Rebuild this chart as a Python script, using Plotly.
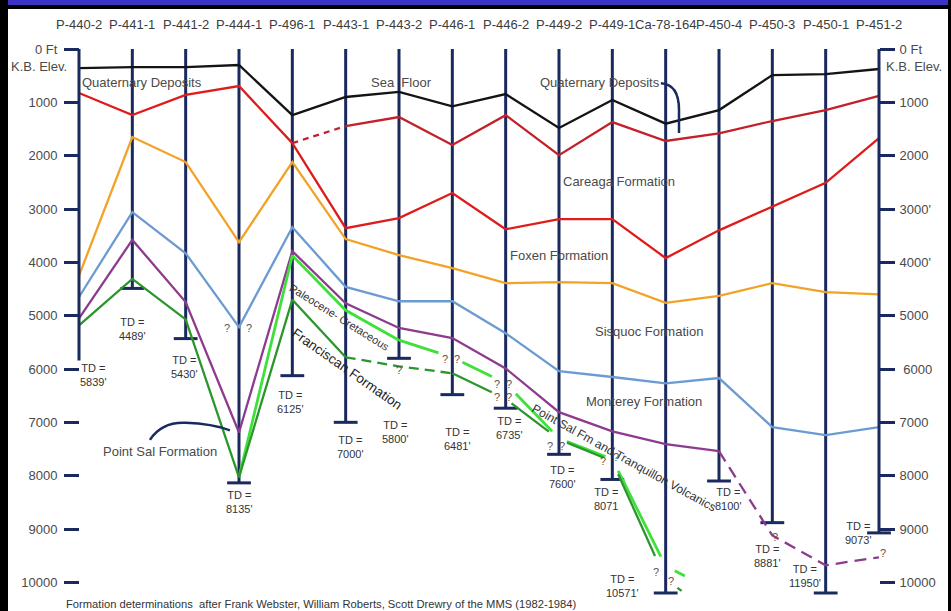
import plotly.graph_objects as go

# ---------------------------------------------------------------- data
WELLS = ["P-440-2", "P-441-1", "P-441-2", "P-444-1", "P-496-1", "P-443-1",
         "P-443-2", "P-446-1", "P-446-2", "P-449-2", "P-449-1", "Ca-78-164",
         "P-450-4", "P-450-3", "P-450-1", "P-451-2"]

# total depth of each well, ft below K.B.
TOTAL_DEPTH = [5839, 4489, 5430, 8135, 6125, 7000, 5800, 6481,
               6735, 7600, 8071, 10571, 8100, 8881, 11950, 9073]
TD_PRIME = [True] * 10 + [False] + [True] * 5

# formation boundaries (ft) picked at each well; None = not present
SEA_FLOOR = [360, 340, 340, 300, 1240, 900, 805, 1075,
             845, 1480, 955, 1400, 1145, 490, 470, 375]
QUATERNARY_BASE = [825, 1240, 860, 695, 1765, 1445, 1275, 1800,
                   1240, 1990, 1370, 1725, 1580, 1350, 1145, 880]
CAREAGA_BASE = [None, None, None, None, 1765, 3360, 3170, 2700,
                3380, 3190, 3190, 3920, 3400, 2960, 2510, 1670]
FOXEN_BASE = [4250, 1650, 2120, 3620, 2120, 3565, 3865, 4110,
              4390, 4370, 4390, 4760, 4630, 4390, 4560, 4600]
SISQUOC_BASE = [4650, 3060, 3830, 5215, 3340, 4460, 4730, 4730,
                5330, 6040, 6150, 6270, 6170, 7090, 7240, 7090]
MONTEREY_BASE = [5050, 3580, 4745, 7190, 3790, 4770, 5230, 5420,
                 5990, 6810, 7170, 7410, 7540, 9120, 9680, 9530]
POINT_SAL_BASE = [None, None, None, 8030, 3870, 4900, 5460, 5780,
                  6270, 7300, 7690, 9700, 10200, None, None, None]
PALEO_CRET_BASE = [5180, 4310, 5070, 8030, 4700, 5780, 5950, 6080,
                   6560, 7320, 7730, 9950, 10650, None, None, None]

DEPTH_TICKS = [0, 1000, 2000, 3000, 4000, 5000, 6000, 7000, 8000, 9000, 10000]
LEFT_TICK_TEXT = ["0 Ft", "1000", "2000", "3000", "4000", "5000", "6000",
                  "7000", "8000", "9000", "10000"]
RIGHT_TICK_TEXT = ["0 Ft", "1000", "2000", "3000'", "4000'", "5000", " 6000",
                   "7000", "8000", "9000", "10000"]

# ---------------------------------------------------------------- layout constants
W, H = 951, 611
SECTION_BASE = 10200          # wells deeper than this leave the section
SECTION_TOP = -168.75
X_MIN, X_MAX = -0.06, 15.06
PX_LEFT, PX_RIGHT = 75.8, 882.2
PX_TOP, PX_BOTTOM = 40, 593

NAVY = "#1b2a5e"
TXT = "#4a4a4a"
FONT = "Arial, Liberation Sans, sans-serif"

C_BLACK = "#141414"
C_RED_UP = "#c4202a"
C_RED = "#df1c1c"
C_ORANGE = "#f2a327"
C_BLUE = "#6b9bd2"
C_PURPLE = "#8d3b8f"
C_LGREEN = "#3fe03a"
C_DGREEN = "#2a962c"
LW = 2.3

fig = go.Figure()


def run(values, start, stop, color, dash="solid", width=LW, yaxis="y"):
    xs = list(range(start, stop + 1))
    ys = [values[i] for i in xs]
    fig.add_trace(go.Scatter(x=xs, y=ys, mode="lines", yaxis=yaxis,
                             line=dict(color=color, width=width, dash=dash),
                             hoverinfo="skip", showlegend=False))


def piece(values, i, t0, t1, color, dash="solid", width=LW):
    """Part of the interval well i -> i+1, from fraction t0 to fraction t1."""
    a, b = values[i], values[i + 1]
    xa, xb = i + t0, i + t1
    ya, yb = a + (b - a) * t0, a + (b - a) * t1
    fig.add_trace(go.Scatter(x=[xa, xb], y=[ya, yb], mode="lines",
                             line=dict(color=color, width=width, dash=dash),
                             hoverinfo="skip", showlegend=False))


# ---------------------------------------------------------------- well bores
n = len(WELLS)
for i in range(n):
    axis = "y2" if i == 0 else ("y3" if i == n - 1 else "y")
    fig.add_trace(go.Scatter(x=[i, i], y=[0, TOTAL_DEPTH[i]], mode="lines",
                             yaxis=axis, line=dict(color=NAVY, width=3),
                             hoverinfo="skip", showlegend=False))

cap_x = list(range(1, n))
cap_y = [min(d, SECTION_BASE) for d in TOTAL_DEPTH[1:]]
fig.add_trace(go.Scatter(x=cap_x, y=cap_y, mode="markers", cliponaxis=False,
                         marker=dict(symbol="line-ew", size=17,
                                     line=dict(color=NAVY, width=3)),
                         hoverinfo="skip", showlegend=False))

# ---------------------------------------------------------------- horizons
run(SEA_FLOOR, 0, 15, C_BLACK)

run(QUATERNARY_BASE, 0, 4, C_RED)
run(QUATERNARY_BASE, 4, 5, C_RED_UP, dash="6px,5px")
run(QUATERNARY_BASE, 5, 15, C_RED_UP)
run(CAREAGA_BASE, 4, 15, C_RED)

run(FOXEN_BASE, 0, 15, C_ORANGE)
run(SISQUOC_BASE, 0, 15, C_BLUE)

run(MONTEREY_BASE, 0, 12, C_PURPLE)
run(MONTEREY_BASE, 12, 15, C_PURPLE, dash="12px,7px")

# Point Sal base, broken where the pick is uncertain
run(POINT_SAL_BASE, 3, 6, C_LGREEN, width=2.8)
for i, t0, t1 in [(6, 0, 0.74), (7, 0.19, 0.74), (8, 0.19, 0.87),
                  (9, 0.15, 0.87), (10, 0.11, 0.91), (11, 0.17, 0.36)]:
    piece(POINT_SAL_BASE, i, t0, t1, C_LGREEN, width=2.8)

# Paleocene-Cretaceous base (top of Franciscan)
run(PALEO_CRET_BASE, 0, 5, C_DGREEN)
run(PALEO_CRET_BASE, 5, 7, C_DGREEN, dash="10px,6px")
for i, t0, t1 in [(7, 0, 0.74), (8, 0.11, 0.81), (9, 0.15, 0.83),
                  (10, 0.11, 0.8), (11, 0.22, 0.3)]:
    piece(PALEO_CRET_BASE, i, t0, t1, C_DGREEN)

# ---------------------------------------------------------------- annotations
ann = []

for i, name in enumerate(WELLS):
    ann.append(dict(x=i, y=1 - 25 / H, xref="x", yref="paper", text=name,
                    showarrow=False, yanchor="middle",
                    font=dict(size=13, color="#3c3c3c")))

# TD labels: (dx, dy) pixel offsets from the bottom of each bore
TD_LABEL_SHIFT = [(14, 15), (0, 41), (-1, 28), (0, 19), (-2, 26), (5, 25),
                  (-4, 74), (5, 44), (4, 20), (3, 23), (-6, 20), (-43, -7),
                  (9, 18), (-5, 33), (-21, -17), (-21, 0)]
for i, d in enumerate(TOTAL_DEPTH):
    dx, dy = TD_LABEL_SHIFT[i]
    label = f"TD =<br>{d}" + ("'" if TD_PRIME[i] else "")
    ann.append(dict(x=i, y=min(d, SECTION_BASE), xref="x", yref="y",
                    text=label, showarrow=False, xshift=dx, yshift=-dy,
                    font=dict(size=11, color="#333333")))

# uncertain picks: (horizon, well, dx, dy)
QUERY_MARKS = [(SISQUOC_BASE, 3, -12, 1), (SISQUOC_BASE, 3, 10, 1),
               (POINT_SAL_BASE, 7, -7, 2), (POINT_SAL_BASE, 7, 5, 2),
               (POINT_SAL_BASE, 8, -9, 1), (POINT_SAL_BASE, 8, 3, 1),
               (POINT_SAL_BASE, 9, -9, 8), (POINT_SAL_BASE, 9, 3, 8),
               (POINT_SAL_BASE, 10, -9, 2), (POINT_SAL_BASE, 10, 4, -2),
               (POINT_SAL_BASE, 11, -10, 6), (POINT_SAL_BASE, 11, 5, 15),
               (PALEO_CRET_BASE, 6, 0, 4),
               (PALEO_CRET_BASE, 8, -9, -2), (PALEO_CRET_BASE, 8, 3, -2),
               (MONTEREY_BASE, 13, 3, 2), (MONTEREY_BASE, 15, 4, -4)]
for vals, i, dx, dy in QUERY_MARKS:
    ann.append(dict(x=i, y=vals[i], xref="x", yref="y", text="?",
                    showarrow=False, xshift=dx, yshift=-dy,
                    font=dict(size=11, color="#555555")))

# formation names: (text, x, depth, angle, size, color, anchor)
FORMATION_LABELS = [
    ("Quaternary Deposits", 0.02, 619, 0, 13, TXT, "left"),
    ("Sea&nbsp;&nbsp;Floor", 6.04, 619, 0, 13, TXT, "center"),
    ("Quaternary Deposits", 9.77, 619, 0, 13, TXT, "center"),
    ("Careaga Formation", 10.125, 2475, 0, 13, TXT, "center"),
    ("Foxen Formation", 9.0, 3880, 0, 13, TXT, "center"),
    ("Sisquoc Formation", 10.69, 5306, 0, 13, TXT, "center"),
    ("Monterey Formation", 10.59, 6600, 0, 13, TXT, "center"),
    ("Point Sal Formation", 1.52, 7538, 0, 13, TXT, "center"),
    ("Paleocene- Cretaceous", 4.875, 5025, 32, 11, "#333333", "center"),
    ("Franciscan Formation", 5.04, 6000, 35, 13.5, "#222222", "center"),
    ("Point Sal Fm and Tranquillon Volcanics", 10.22, 7669, 29, 12,
     "#333333", "center"),
]
for text, x, y, ang, size, color, anchor in FORMATION_LABELS:
    ann.append(dict(x=x, y=y, xref="x", yref="y", text=text, showarrow=False,
                    textangle=ang, xanchor=anchor,
                    font=dict(size=size, color=color)))

ann.append(dict(x=69 / W, y=1 - 67 / H, xref="paper", yref="paper",
                text="K.B. Elev.", showarrow=False, xanchor="right",
                yanchor="middle", font=dict(size=13, color=TXT)))
ann.append(dict(x=884 / W, y=1 - 67 / H, xref="paper", yref="paper",
                text="K.B. Elev.", showarrow=False, xanchor="left",
                yanchor="middle", font=dict(size=13, color=TXT)))
ann.append(dict(x=64 / W, y=1 - 604 / H, xref="paper", yref="paper",
                text="Formation determinations  after Frank Webster, William "
                     "Roberts, Scott Drewry of the MMS (1982-1984)",
                showarrow=False, xanchor="left", yanchor="middle",
                font=dict(size=11.2, color="#333333")))

# ---------------------------------------------------------------- shapes
shapes = [
    # frame
    dict(type="rect", xref="paper", yref="paper", x0=0, x1=1,
         y0=1 - 9 / H, y1=1, fillcolor="#000000", line_width=0),
    dict(type="rect", xref="paper", yref="paper", x0=0, x1=1,
         y0=1 - 5 / H, y1=1, fillcolor="#3a33c6", line_width=0),
    dict(type="rect", xref="paper", yref="paper", x0=0, x1=8 / W,
         y0=0, y1=1, fillcolor="#000000", line_width=0),
    dict(type="rect", xref="paper", yref="paper", x0=948 / W, x1=1,
         y0=0, y1=1, fillcolor="#000000", line_width=0),
    # leader lines
    dict(type="path", xref="x", yref="y",
         path="M 1.33,7330 Q 1.55,6990 2.0,7010 Q 2.5,7030 2.83,7150",
         line=dict(color=NAVY, width=2.5)),
    dict(type="path", xref="x", yref="y",
         path="M 10.91,640 Q 11.25,660 11.25,1140 L 11.25,1575",
         line=dict(color=NAVY, width=2.5)),
]

axis_common = dict(range=[SECTION_BASE, SECTION_TOP], showgrid=False,
                   zeroline=False, showline=False)

fig.update_layout(
    width=W, height=H,
    margin=dict(l=0, r=0, t=0, b=0),
    paper_bgcolor="white", plot_bgcolor="white",
    font=dict(family=FONT),
    xaxis=dict(range=[X_MIN, X_MAX], domain=[PX_LEFT / W, PX_RIGHT / W],
               visible=False),
    yaxis=dict(domain=[1 - PX_BOTTOM / H, 1 - PX_TOP / H],
               showticklabels=False, ticks="", **axis_common),
    yaxis2=dict(overlaying="y", anchor="free", position=79 / W, side="left",
                tickvals=DEPTH_TICKS, ticktext=LEFT_TICK_TEXT,
                ticks="outside", ticklen=15, tickwidth=3, tickcolor=NAVY,
                ticklabelstandoff=4,
                tickfont=dict(size=13, color=TXT), **axis_common),
    yaxis3=dict(overlaying="y", anchor="free", position=879 / W, side="right",
                tickvals=DEPTH_TICKS, ticktext=RIGHT_TICK_TEXT,
                ticks="outside", ticklen=15, tickwidth=3, tickcolor=NAVY,
                ticklabelstandoff=2,
                tickfont=dict(size=13, color=TXT), **axis_common),
    annotations=ann,
    shapes=shapes,
)

fig.write_html("out.html")
